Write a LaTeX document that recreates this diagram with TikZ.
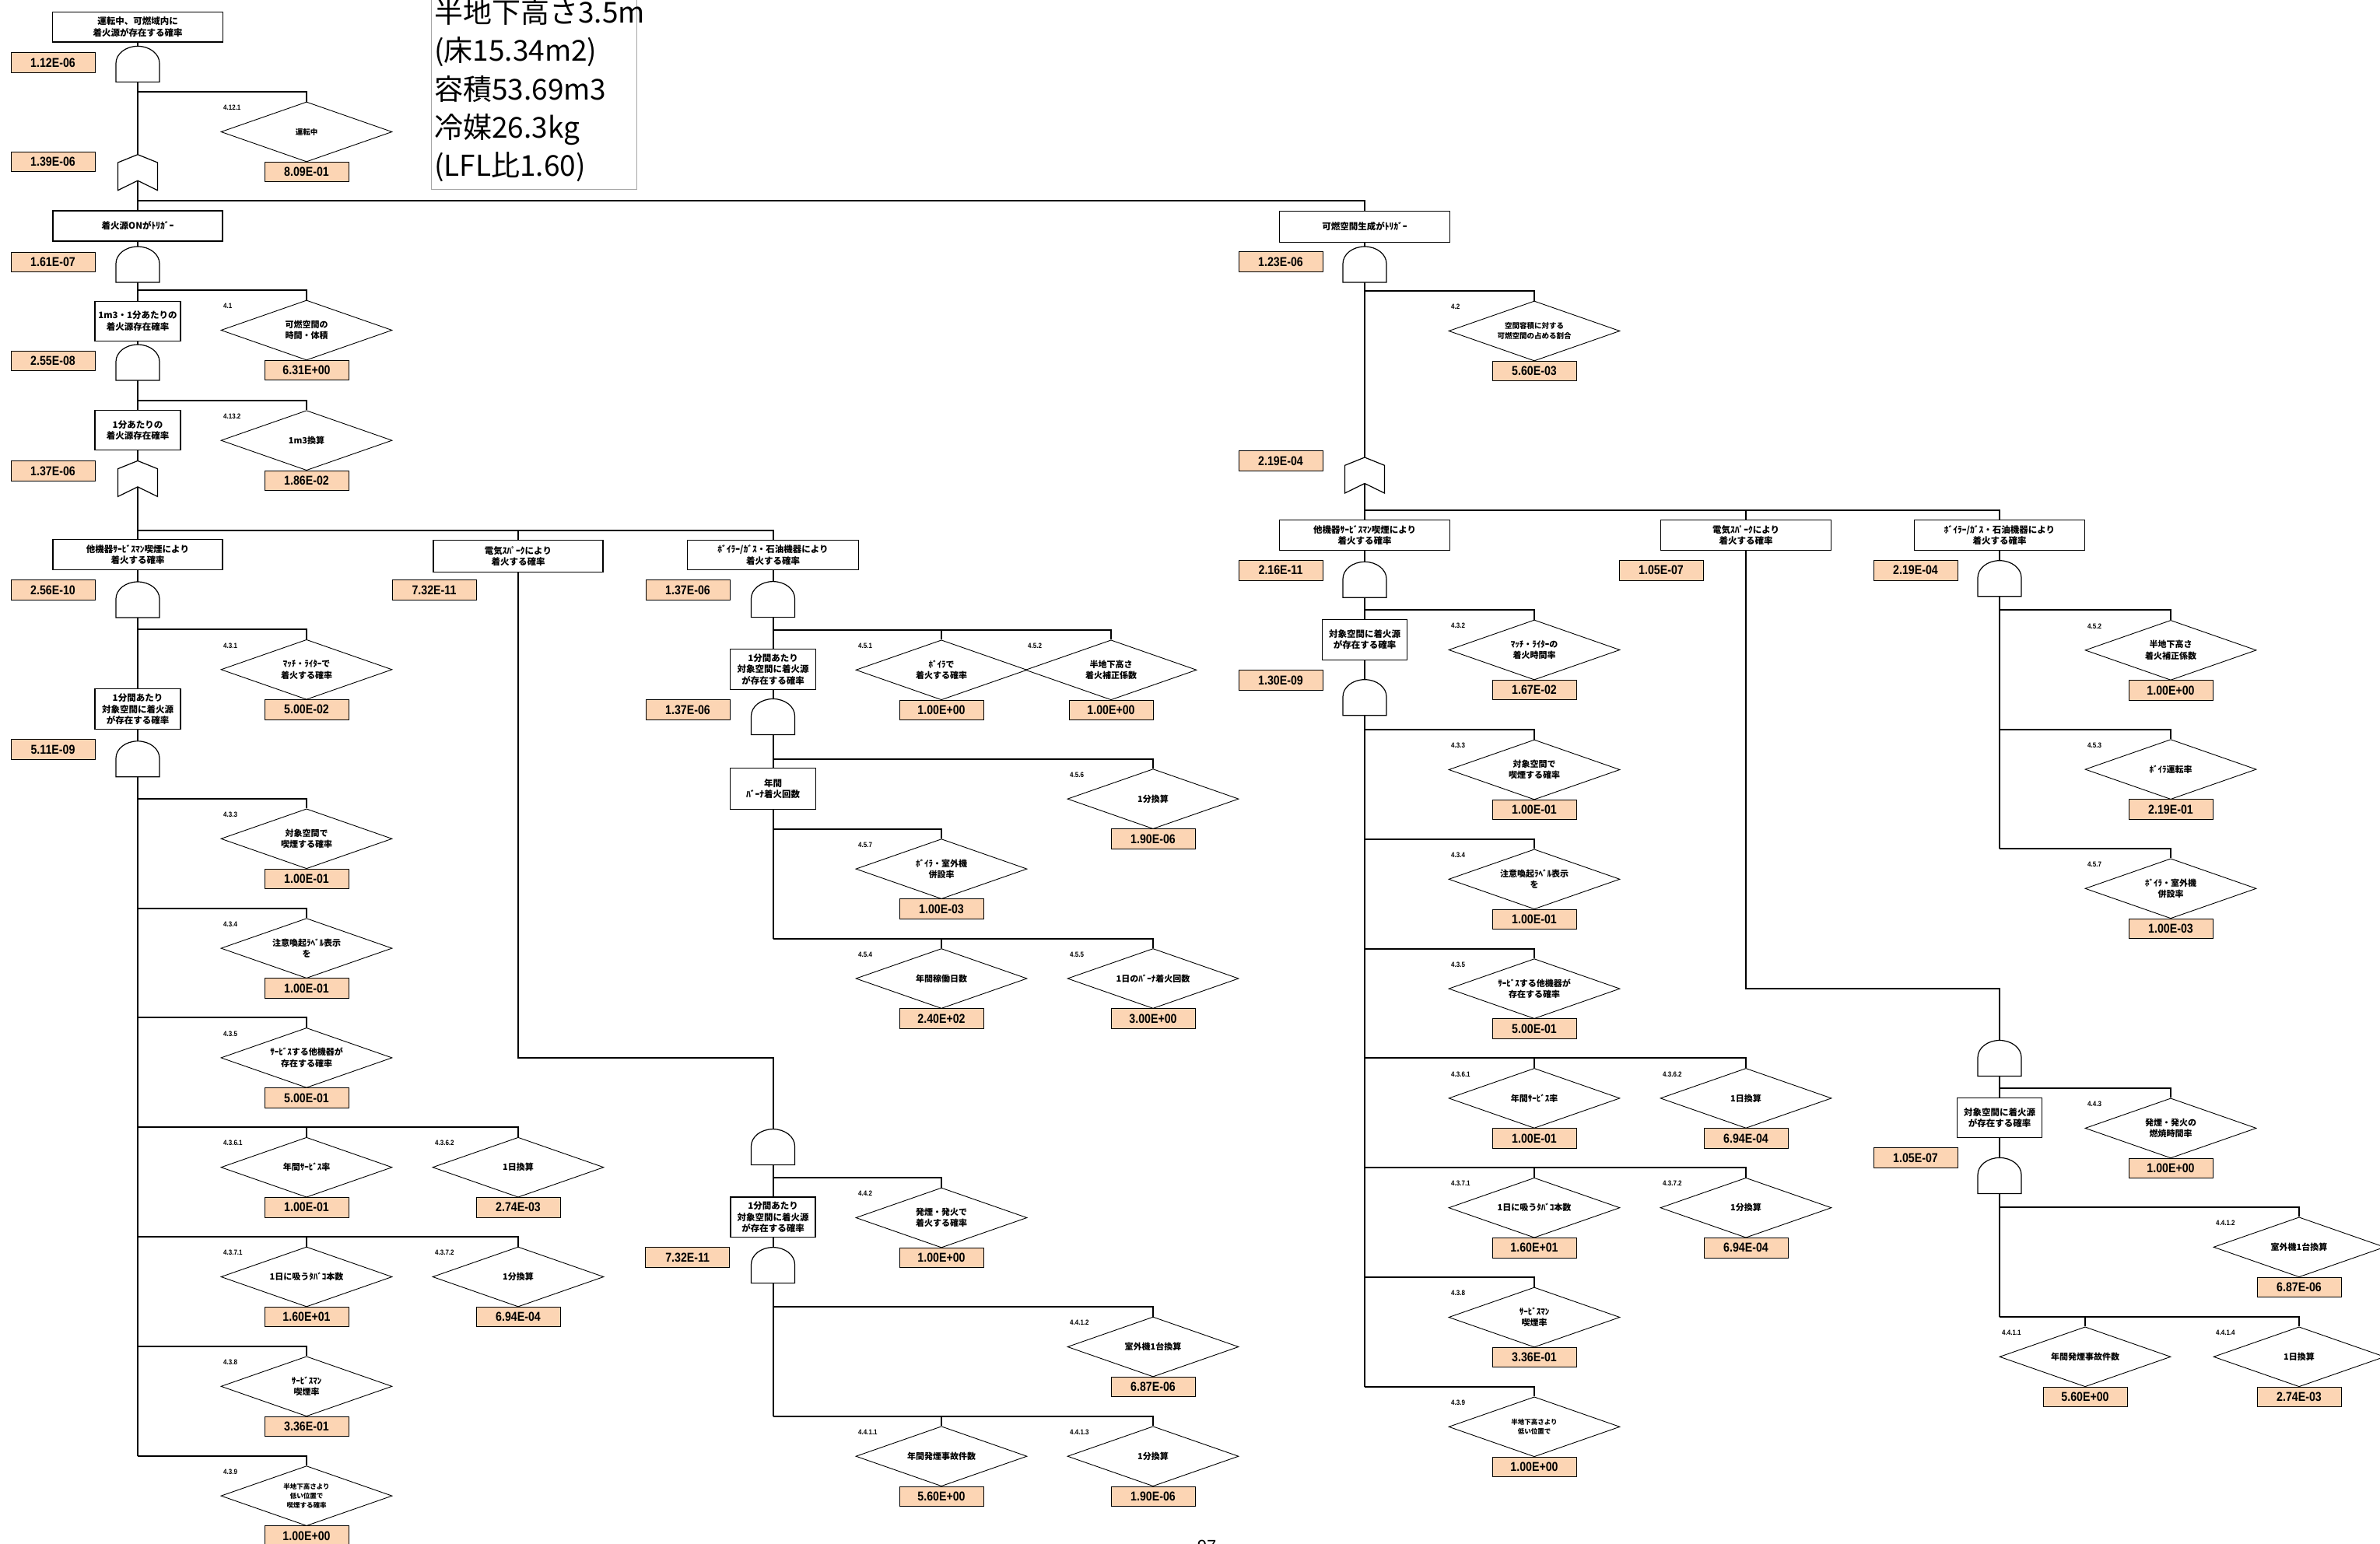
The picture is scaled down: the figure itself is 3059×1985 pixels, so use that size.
\documentclass[tikz,border=0pt]{standalone}
\usepackage{fontspec}
\usetikzlibrary{shapes.geometric}
\setmainfont{Liberation Sans}
\newfontfamily\jpfont{Noto Sans CJK JP}
\newfontfamily\numfont[FakeStretch=0.86]{Liberation Sans}
\definecolor{peach}{HTML}{FCD5B4}
\pgfdeclarelayer{bg}
\pgfsetlayers{bg,main}

\tikzset{
  conn/.style={line width=2pt},
  evbox/.style={draw, line width=1.15pt, fill=white, inner sep=1pt, align=center,
    font=\jpfont\bfseries\fontsize{11.5}{14.5}\selectfont},
  dia/.style={diamond, draw, line width=0.9pt, fill=white, aspect=2.857,
    minimum width=220, minimum height=77, inner sep=0pt, align=center,
    font=\jpfont\bfseries\fontsize{11}{14.5}\selectfont},
  midtext/.style={font=\jpfont\bfseries\fontsize{9.5}{12.5}\selectfont},
  smalltext/.style={font=\jpfont\bfseries\fontsize{8.5}{12}\selectfont},
  val/.style={draw, line width=0.9pt, fill=peach, minimum width=108,
    minimum height=25.5, inner sep=0pt,
    font=\numfont\bfseries\fontsize{16.5}{18}\selectfont},
  lbl/.style={anchor=west, inner sep=0pt,
    font=\numfont\bfseries\fontsize{9.3}{10}\selectfont},
  gatest/.style={draw, line width=1.2pt, fill=white},
  infotext/.style={anchor=base west, inner sep=0pt,
    font=\jpfont\fontsize{37}{40}\selectfont},
}

% AND gate: name, centre x, top y
\newcommand\andgate[3]{%
  \coordinate (#1) at (#2,#3);
  \filldraw[gatest] (#2-28,#3+46) -- (#2-28,#3+22)
    arc[start angle=180,end angle=0,x radius=28pt,y radius=22pt]
    -- (#2+28,#3+46) -- cycle;}

% OR gate (chevron form): name, centre x, top y
\newcommand\orgate[3]{%
  \coordinate (#1) at (#2,#3);
  \filldraw[gatest] (#2,#3) -- (#2+25.5,#3+10.3) -- (#2+25.5,#3+46)
    -- (#2,#3+33.5) -- (#2-25.5,#3+46) -- (#2-25.5,#3+10.3) -- cycle;}

% basic event: [text style] name, parent x, branch y, diamond x, number, text, value
\newcommand\leaf[8][]{%
  \node[dia,#1] (#2) at (#5,#4+51.5) {#7};
  \node[lbl] (#2n) at (#5-107,#4+20.5) {#6};
  \node[val] (#2v) at (#5,#4+103) {#8};
  \coordinate (#2j) at (#3,#4);
  \begin{pgfonlayer}{bg}\draw[conn] (#2j) -| (#2.north);\end{pgfonlayer}}

\begin{document}
\begin{tikzpicture}[x=1pt,y=-1pt]
\useasboundingbox (0,0) rectangle (3059,1985);

% ---------- condition panel ----------
\draw[gray!70, line width=1pt] (554.5,-5) rectangle (818.5,243.3);
\node[infotext] (info1) at (558,29.3) {半地下高さ3.5m};
\node[infotext] (info2) at (558,78.3) {(床15.34m2)};
\node[infotext] (info3) at (558,128.3) {容積53.69m3};
\node[infotext] (info4) at (558,177.5) {冷媒26.3kg};
\node[infotext] (info5) at (558,226.7) {(LFL比1.60)};

% ---------- top of tree ----------
\node[evbox, minimum width=219, minimum height=38.5] (top) at (177,34.8) {運転中、可燃域内に\\着火源が存在する確率};
\node[val] (topv) at (68,80.5) {1.12E-06};
\andgate{g1}{177}{59.4}
\leaf[midtext]{d4121}{177}{118}{394}{4.12.1}{運転中}{8.09E-01}
\orgate{c1}{177}{198.7}
\node[val] (c1v) at (68,208) {1.39E-06};

% ---------- ignition source ON is the trigger ----------
\node[evbox, minimum width=218, minimum height=39] (trgA) at (177,290.5) {着火源ONがﾄﾘｶﾞｰ};
\node[val] (trgAv) at (68,337) {1.61E-07};
\andgate{g2}{177}{317}
\leaf{d41}{177}{373}{394}{4.1}{可燃空間の\\時間・体積}{6.31E+00}
\node[evbox, minimum width=110, minimum height=51] (m3) at (177,412.7) {1m3・1分あたりの\\着火源存在確率};
\node[val] (m3v) at (68,464) {2.55E-08};
\andgate{g3}{177}{443}
\leaf{d4132}{177}{514.7}{394}{4.13.2}{1m3換算}{1.86E-02}
\node[evbox, minimum width=110, minimum height=51] (min1) at (177,553.4) {1分あたりの\\着火源存在確率};
\node[val] (min1v) at (68,605.5) {1.37E-06};
\orgate{c2}{177}{592.4}

% ---------- left: serviceman smoking ----------
\node[evbox, minimum width=218, minimum height=39] (svcL) at (177,713.2) {他機器ｻｰﾋﾞｽﾏﾝ喫煙により\\着火する確率};
\node[val] (svcLv) at (68,758.4) {2.56E-10};
\andgate{g4}{177}{748}
\leaf{dL431}{177}{809.3}{394}{4.3.1}{ﾏｯﾁ・ﾗｲﾀｰで\\着火する確率}{5.00E-02}
\node[evbox, minimum width=110, minimum height=52] (tgtL) at (177,911.7) {1分間あたり\\対象空間に着火源\\が存在する確率};
\node[val] (tgtLv) at (68,963.5) {5.11E-09};
\andgate{g5}{177}{952.8}
\leaf{dL433}{177}{1026.8}{394}{4.3.3}{対象空間で\\喫煙する確率}{1.00E-01}
\leaf{dL434}{177}{1167.6}{394}{4.3.4}{注意喚起ﾗﾍﾞﾙ表示\\を}{1.00E-01}
\leaf{dL435}{177}{1308.4}{394}{4.3.5}{ｻｰﾋﾞｽする他機器が\\存在する確率}{5.00E-01}
\leaf{dL4362}{177}{1449.2}{666}{4.3.6.2}{1日換算}{2.74E-03}
\leaf{dL4361}{177}{1449.2}{394}{4.3.6.1}{年間ｻｰﾋﾞｽ率}{1.00E-01}
\leaf{dL4372}{177}{1590}{666}{4.3.7.2}{1分換算}{6.94E-04}
\leaf{dL4371}{177}{1590}{394}{4.3.7.1}{1日に吸うﾀﾊﾞｺ本数}{1.60E+01}
\leaf{dL438}{177}{1730.8}{394}{4.3.8}{ｻｰﾋﾞｽﾏﾝ\\喫煙率}{3.36E-01}
\leaf[smalltext]{dL439}{177}{1871.6}{394}{4.3.9}{半地下高さより\\低い位置で\\喫煙する確率}{1.00E+00}

% ---------- left: electric spark ----------
\node[evbox, minimum width=218, minimum height=41] (elecL) at (666,715) {電気ｽﾊﾟｰｸにより\\着火する確率};
\node[val] (elecLv) at (558,758.5) {7.32E-11};
\andgate{g6}{993.5}{1451.6}
\leaf{dL442}{993.5}{1514}{1210}{4.4.2}{発煙・発火で\\着火する確率}{1.00E+00}
\node[evbox, minimum width=109, minimum height=51.5] (tgtL2) at (993.5,1564.8) {1分間あたり\\対象空間に着火源\\が存在する確率};
\node[val] (tgtL2v) at (883.7,1616.5) {7.32E-11};
\andgate{g7}{993.5}{1603.6}
\leaf{dL4412}{993.5}{1680}{1482}{4.4.1.2}{室外機1台換算}{6.87E-06}
\leaf{dL4413}{993.5}{1820.7}{1482}{4.4.1.3}{1分換算}{1.90E-06}
\leaf{dL4411}{993.5}{1820.7}{1210}{4.4.1.1}{年間発煙事故件数}{5.60E+00}

% ---------- left: boiler / gas / oil appliances ----------
\node[evbox, minimum width=219.6, minimum height=38.2] (boilL) at (993.5,713.6) {ﾎﾞｲﾗｰ/ｶﾞｽ・石油機器により\\着火する確率};
\node[val] (boilLv) at (884,758.4) {1.37E-06};
\andgate{g8}{993.5}{747.6}
\leaf{dL451}{993.5}{809.8}{1210}{4.5.1}{ﾎﾞｲﾗで\\着火する確率}{1.00E+00}
\leaf{dL452}{993.5}{809.8}{1428}{4.5.2}{半地下高さ\\着火補正係数}{1.00E+00}
\node[evbox, minimum width=109.4, minimum height=52.3] (tgtL3) at (993.5,860.4) {1分間あたり\\対象空間に着火源\\が存在する確率};
\node[val] (tgtL3v) at (884,912.5) {1.37E-06};
\andgate{g9}{993.5}{898.5}
\leaf{dL456}{993.5}{975.6}{1482}{4.5.6}{1分換算}{1.90E-06}
\node[evbox, minimum width=109.4, minimum height=52.3] (burnL) at (993.5,1014) {年間\\ﾊﾞｰﾅ着火回数};
\leaf{dL457}{993.5}{1065.6}{1210}{4.5.7}{ﾎﾞｲﾗ・室外機\\併設率}{1.00E-03}
\leaf{dL455}{993.5}{1206.5}{1482}{4.5.5}{1日のﾊﾞｰﾅ着火回数}{3.00E+00}
\leaf{dL454}{993.5}{1206.5}{1210}{4.5.4}{年間稼働日数}{2.40E+02}

% ---------- flammable space generation is the trigger ----------
\node[evbox, minimum width=218.4, minimum height=39.8] (trgB) at (1754,291.3) {可燃空間生成がﾄﾘｶﾞｰ};
\node[val] (trgBv) at (1646,336.4) {1.23E-06};
\andgate{g10}{1754}{317}
\leaf[midtext]{dR42}{1754}{374}{1972}{4.2}{空間容積に対する\\可燃空間の占める割合}{5.60E-03}
\orgate{c3}{1754}{588}
\node[val] (c3v) at (1646,592.5) {2.19E-04};

% ---------- right: serviceman smoking ----------
\node[evbox, minimum width=218.4, minimum height=38.8] (svcR) at (1754,688.2) {他機器ｻｰﾋﾞｽﾏﾝ喫煙により\\着火する確率};
\node[val] (svcRv) at (1646,733.3) {2.16E-11};
\andgate{g11}{1754}{722.3}
\leaf{dR432}{1754}{784}{1972}{4.3.2}{ﾏｯﾁ・ﾗｲﾀｰの\\着火時間率}{1.67E-02}
\node[evbox, minimum width=109.2, minimum height=51.8] (tgtR) at (1754,822.3) {対象空間に着火源\\が存在する確率};
\node[val] (tgtRv) at (1646,874.5) {1.30E-09};
\andgate{g12}{1754}{873.7}
\leaf{dR433}{1754}{938}{1972}{4.3.3}{対象空間で\\喫煙する確率}{1.00E-01}
\leaf{dR434}{1754}{1078.8}{1972}{4.3.4}{注意喚起ﾗﾍﾞﾙ表示\\を}{1.00E-01}
\leaf{dR435}{1754}{1219.6}{1972}{4.3.5}{ｻｰﾋﾞｽする他機器が\\存在する確率}{5.00E-01}
\leaf{dR4362}{1754}{1360.4}{2244}{4.3.6.2}{1日換算}{6.94E-04}
\leaf{dR4361}{1754}{1360.4}{1972}{4.3.6.1}{年間ｻｰﾋﾞｽ率}{1.00E-01}
\leaf{dR4372}{1754}{1501.2}{2244}{4.3.7.2}{1分換算}{6.94E-04}
\leaf{dR4371}{1754}{1501.2}{1972}{4.3.7.1}{1日に吸うﾀﾊﾞｺ本数}{1.60E+01}
\leaf{dR438}{1754}{1642}{1972}{4.3.8}{ｻｰﾋﾞｽﾏﾝ\\喫煙率}{3.36E-01}
\leaf[smalltext]{dR439}{1754}{1782.8}{1972}{4.3.9}{半地下高さより\\低い位置で}{1.00E+00}

% ---------- right: electric spark ----------
\node[evbox, minimum width=218.4, minimum height=38.8] (elecR) at (2244,688.2) {電気ｽﾊﾟｰｸにより\\着火する確率};
\node[val] (elecRv) at (2135,733.3) {1.05E-07};
\andgate{g13}{2570}{1337.5}
\leaf{dR443}{2570}{1398.9}{2790}{4.4.3}{発煙・発火の\\燃焼時間率}{1.00E+00}
\node[evbox, minimum width=109, minimum height=51.5] (tgtR2) at (2570,1437) {対象空間に着火源\\が存在する確率};
\node[val] (tgtR2v) at (2462,1488.4) {1.05E-07};
\andgate{g14}{2570}{1488.4}
\leaf{dR4412}{2570}{1551.8}{2955}{4.4.1.2}{室外機1台換算}{6.87E-06}
\leaf{dR4414}{2570}{1692.8}{2955}{4.4.1.4}{1日換算}{2.74E-03}
\leaf{dR4411}{2570}{1692.8}{2680}{4.4.1.1}{年間発煙事故件数}{5.60E+00}

% ---------- right: boiler / gas / oil appliances ----------
\node[evbox, minimum width=219, minimum height=38.6] (boilR) at (2570,688) {ﾎﾞｲﾗｰ/ｶﾞｽ・石油機器により\\着火する確率};
\node[val] (boilRv) at (2462,733.3) {2.19E-04};
\andgate{g15}{2570}{720.7}
\leaf{dR452}{2570}{784.4}{2790}{4.5.2}{半地下高さ\\着火補正係数}{1.00E+00}
\leaf{dR453}{2570}{937.6}{2790}{4.5.3}{ﾎﾞｲﾗ運転率}{2.19E-01}
\leaf{dR457}{2570}{1090.8}{2790}{4.5.7}{ﾎﾞｲﾗ・室外機\\併設率}{1.00E-03}

% page number, partly off the sheet
\node[anchor=north, inner sep=0pt, font=\fontsize{22}{24}\selectfont] (pageno) at (1551,1980) {97};

% ---------- trunk connectors ----------
\coordinate (endL) at (177,1871.6);
\coordinate (busA) at (177,258);
\coordinate (busL) at (177,681.7);
\coordinate (busLe) at (666,681.7);
\coordinate (turnL) at (993.5,1359.9);
\coordinate (endLe) at (993.5,1820.7);
\coordinate (endLb) at (993.5,1206.5);
\coordinate (endR) at (1754,1782.8);
\coordinate (busR) at (1754,655.8);
\coordinate (busRe) at (2244,655.8);
\coordinate (turnR) at (2570,1270.8);
\coordinate (endRe) at (2570,1692.8);
\coordinate (endRb) at (2570,1090.8);
\begin{pgfonlayer}{bg}
  \draw[conn] (top.south) -- (endL);
  \draw[conn] (busA) -| (trgB.north);
  \draw[conn] (trgB.south) -- (endR);
  \draw[conn] (busL) -| (boilL.north);
  \draw[conn] (busLe) -- (elecL.north);
  \draw[conn] (elecL.south) |- (turnL) -- (endLe);
  \draw[conn] (boilL.south) -- (endLb);
  \draw[conn] (busR) -| (boilR.north);
  \draw[conn] (busRe) -- (elecR.north);
  \draw[conn] (elecR.south) |- (turnR) -- (endRe);
  \draw[conn] (boilR.south) -- (endRb);
\end{pgfonlayer}
\end{tikzpicture}
\end{document}
